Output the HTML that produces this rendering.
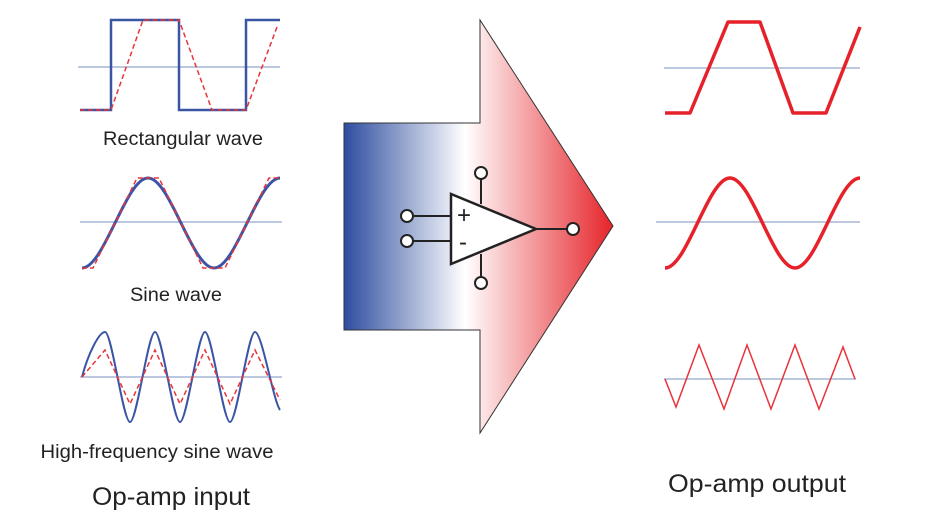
<!DOCTYPE html>
<html><head><meta charset="utf-8"><style>body{margin:0;background:#fff}svg{display:block}</style></head><body>
<svg width="945" height="532" viewBox="0 0 945 532" xmlns="http://www.w3.org/2000/svg" font-family="Liberation Sans, sans-serif">
<defs><linearGradient id="g" x1="344" x2="613" y1="0" y2="0" gradientUnits="userSpaceOnUse">
<stop offset="0" stop-color="#2e4d9f"/><stop offset="0.45" stop-color="#ffffff"/><stop offset="1" stop-color="#e5242a"/></linearGradient></defs>
<polygon points="344,123 480,123 480,20 613,226 480,433 480,330 344,330" fill="url(#g)" stroke="#333" stroke-width="1"/>
<g stroke="#222" stroke-width="2" fill="#fff">
<line x1="407" y1="216" x2="451" y2="216"/><line x1="407" y1="241" x2="451" y2="241"/>
<line x1="481" y1="173" x2="481" y2="204"/><line x1="481" y1="254" x2="481" y2="283"/>
<line x1="536" y1="229" x2="573" y2="229"/>
<polygon points="451,194 451,264 536,229" stroke-width="2.5"/>
<circle cx="407" cy="216" r="6"/><circle cx="407" cy="241" r="6"/><circle cx="481" cy="173" r="6"/><circle cx="481" cy="283" r="6"/><circle cx="573" cy="229" r="6"/>
</g>
<text x="457" y="223" font-size="24" fill="#222">+</text><text x="459" y="250" font-size="24" fill="#222">-</text>
<g stroke="#7a90c0" stroke-width="1">
<line x1="78" y1="67" x2="280" y2="67"/><line x1="80" y1="222" x2="282" y2="222"/><line x1="80" y1="377" x2="282" y2="377"/>
<line x1="664" y1="68" x2="860" y2="68"/><line x1="656" y1="222" x2="860" y2="222"/><line x1="664" y1="379" x2="856" y2="379"/>
</g>
<g fill="none">
<polyline points="80,110 111,110 111,20 179,20 179,110 246,110 246,20 280,20" stroke="#3b55a5" stroke-width="2.5"/>
<polyline points="80,110 111,110 143,20 179,20 212,110 246,110 277,27" stroke="#e8333a" stroke-width="1.5" stroke-dasharray="5,3"/>
<path d="M82,268 C104,268 126,178 148,178 C170,178 192,268 214,268 C236,268 258,178 280,178" stroke="#3b55a5" stroke-width="3"/>
<polyline points="82,268 93,268 137,178 159,178 203,268 225,268 269,178 280,178" stroke="#e8333a" stroke-width="1.5" stroke-dasharray="5,3"/>
<path d="M82,377 C88,354 99,332 105,332 C112,332 123,422 130,422 C137,422 148,332 155,332 C162,332 173,422 180,422 C187,422 198,332 205,332 C212,332 223,422 230,422 C237,422 248,332 255,332 C262,332 273,400 280,410" stroke="#3b55a5" stroke-width="2"/>
<polyline points="82,377 105,350 130,404 155,350 180,404 205,350 230,404 255,350 280,400" stroke="#e8333a" stroke-width="1.5" stroke-dasharray="5,3"/>
<polyline points="665,113 690,113 728,22 760,22 793,113 826,113 860,27" stroke="#e62129" stroke-width="3.5" stroke-linejoin="round"/>
<path d="M665,268 C687,268 708,178 730,178 C752,178 773,268 795,268 C817,268 838,178 860,178" stroke="#e62129" stroke-width="3.5"/>
<polyline points="665,379 676,407 699,345 724,409 747,345 771,409 795,345 819,409 843,347 855,379" stroke="#e8333a" stroke-width="1.5"/>
</g>
<g fill="#222" text-anchor="middle">
<text x="183" y="145" font-size="19" textLength="160" lengthAdjust="spacingAndGlyphs">Rectangular wave</text>
<text x="176" y="301" font-size="19" textLength="92" lengthAdjust="spacingAndGlyphs">Sine wave</text>
<text x="157" y="458" font-size="19" textLength="233" lengthAdjust="spacingAndGlyphs">High-frequency sine wave</text>
<text x="171" y="505" font-size="25" textLength="158" lengthAdjust="spacingAndGlyphs">Op-amp input</text>
<text x="757" y="492" font-size="25" textLength="178" lengthAdjust="spacingAndGlyphs">Op-amp output</text>
</g>
</svg>
</body></html>
